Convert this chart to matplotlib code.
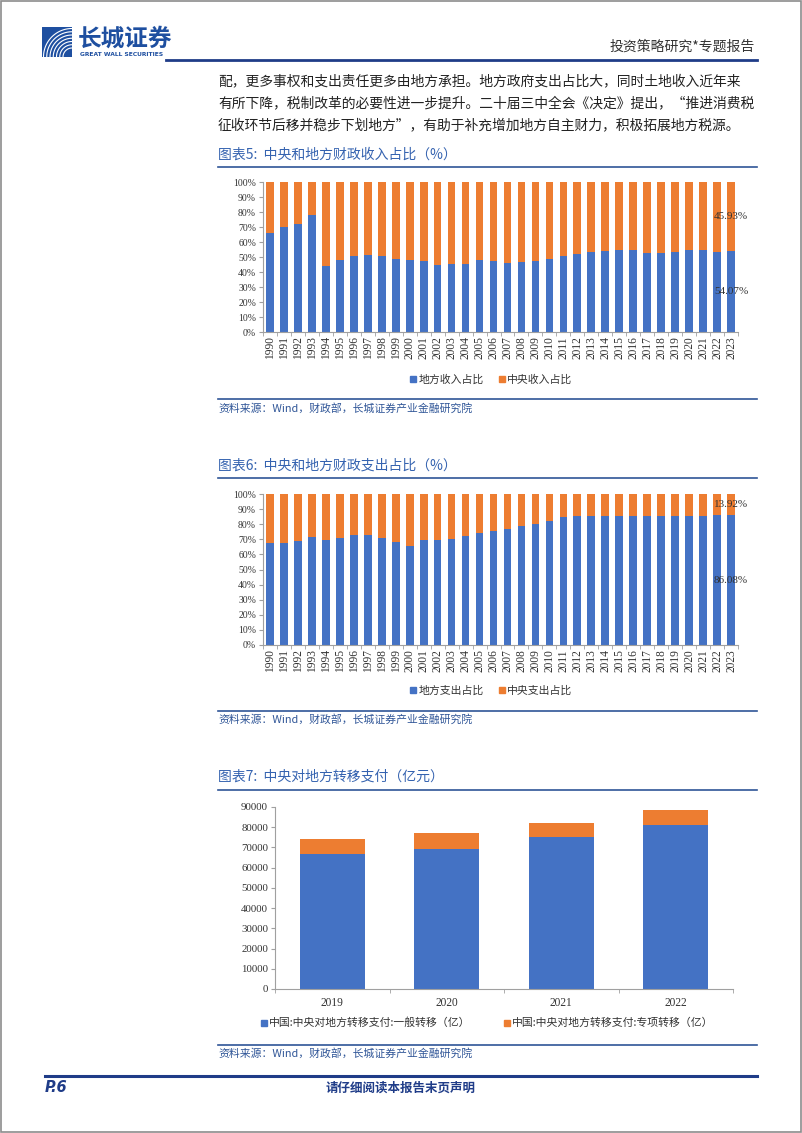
import matplotlib
matplotlib.use('Agg')
import matplotlib.pyplot as plt
from matplotlib.lines import Line2D
from matplotlib.patches import Rectangle
import numpy as np

# ---- data ----
years = [1990, 1991, 1992, 1993, 1994, 1995, 1996, 1997, 1998, 1999, 2000,
         2001, 2002, 2003, 2004, 2005, 2006, 2007, 2008, 2009, 2010, 2011,
         2012, 2013, 2014, 2015, 2016, 2017, 2018, 2019, 2020, 2021, 2022, 2023]
local_rev = [66.2, 70.2, 71.9, 78.0, 44.3, 47.8, 50.6, 51.1, 50.5, 48.9, 47.8,
             47.6, 45.0, 45.4, 45.1, 47.7, 47.2, 45.9, 46.7, 47.6, 48.9, 50.6,
             52.1, 53.4, 54.1, 54.5, 54.7, 53.0, 53.0, 53.1, 54.7, 54.6, 53.4, 54.07]
central_rev = [33.8, 29.8, 28.1, 22.0, 55.7, 52.2, 49.4, 48.9, 49.5, 51.1, 52.2,
               52.4, 55.0, 54.6, 54.9, 52.3, 52.8, 54.1, 53.3, 52.4, 51.1, 49.4,
               47.9, 46.6, 45.9, 45.5, 45.3, 47.0, 47.0, 46.9, 45.3, 45.4, 46.6, 45.93]
local_exp = [67.4, 67.8, 68.7, 71.7, 69.7, 70.8, 72.9, 72.6, 71.1, 68.5, 65.3,
             69.5, 69.3, 69.9, 72.3, 74.1, 75.3, 77.0, 78.7, 80.0, 82.2, 84.9,
             85.1, 85.4, 85.1, 85.5, 85.4, 85.3, 85.2, 85.3, 85.7, 85.7, 86.3, 86.08]
central_exp = [32.6, 32.2, 31.3, 28.3, 30.3, 29.2, 27.1, 27.4, 28.9, 31.5, 34.7,
               30.5, 30.7, 30.1, 27.7, 25.9, 24.7, 23.0, 21.3, 20.0, 17.8, 15.1,
               14.9, 14.6, 14.9, 14.5, 14.6, 14.7, 14.8, 14.7, 14.3, 14.3, 13.7, 13.92]
tr_years = ['2019', '2020', '2021', '2022']
tr_general = [66798, 69459, 75018, 80994]
tr_special = [7561, 7766, 7017, 7557]

paragraph = ['配，更多事权和支出责任更多由地方承担。地方政府支出占比大，同时土地收入近年来',
             '有所下降，税制改革的必要性进一步提升。二十届三中全会《决定》提出，“推进消费税',
             '征收环节后移并稳步下划地方”，有助于补充增加地方自主财力，积极拓展地方税源。']
source = '资料来源：Wind，财政部，长城证券产业金融研究院'

BLUE = '#4472C4'
ORANGE = '#ED7D31'
NAVY = '#1F3C88'
TITLE_C = '#3563B0'
LINE_C = '#2F5597'
SERIF = ['Liberation Serif', 'Noto Sans CJK SC']
CJK = ['Noto Sans CJK SC', 'DejaVu Sans']

W, H = 802, 1133
fig = plt.figure(figsize=(W / 100, H / 100), dpi=100)


def put(x, y, s, **kw):
    kw.setdefault('va', 'center')
    kw.setdefault('family', CJK)
    return fig.text(x / W, 1 - y / H, s, **kw)


def hline(y, x0, x1, color=LINE_C, lw=1.2):
    fig.add_artist(Line2D([x0 / W, x1 / W], [1 - y / H, 1 - y / H],
                          color=color, lw=lw, transform=fig.transFigure))


def ax_at(l, t, r, b):
    return fig.add_axes([l / W, 1 - b / H, (r - l) / W, (b - t) / H])


def style(ax):
    for s in ['top', 'right']:
        ax.spines[s].set_visible(False)
    for s in ['left', 'bottom']:
        ax.spines[s].set_color('#A0A0A0')
        ax.spines[s].set_linewidth(0.8)
    ax.tick_params(axis='y', length=3, color='#A0A0A0', pad=2)
    ax.tick_params(axis='x', which='major', length=0, pad=3)
    ax.tick_params(axis='x', which='minor', length=3, color='#A0A0A0')


# ---- page frame / header ----
fig.add_artist(Rectangle((0.001, 0.001), 0.998, 0.998, fill=False, ec='#8C8C8C',
                         lw=1.2, transform=fig.transFigure))
logo = ax_at(42, 27, 72, 57)
logo.set_xlim(0, 1)
logo.set_ylim(0, 1)
logo.axis('off')
logo.add_patch(Rectangle((0, 0), 1, 1, color='#1E4FA0'))
for r in np.linspace(0.3, 0.95, 7):
    th = np.linspace(np.pi / 2, np.pi, 40)
    logo.plot(1.0 + r * np.cos(th), 0.0 + r * np.sin(th), color='white', lw=0.8)
put(78, 39, '长城证券', fontsize=17, fontweight='bold', color='#1E4FA0', ha='left')
put(80, 55, 'GREAT WALL SECURITIES', fontsize=4.3, fontweight='bold',
    color='#1E4FA0', ha='left', family=['DejaVu Sans'])
put(755, 47, '投资策略研究*专题报告', fontsize=10, color='#333333', ha='right')
hline(60, 166, 757, color=NAVY, lw=2)

for i, line in enumerate(paragraph):
    put(218, 81 + i * 22, line, fontsize=9.95, color='#222222', ha='left')

# ---- chart 5 ----
put(218, 155, '图表5:  中央和地方财政收入占比（%）', fontsize=10, color=TITLE_C,
    ha='left', style='italic')
hline(167, 218, 757)
x = np.arange(len(years))
ax1 = ax_at(263, 182, 738, 332)
b1 = ax1.bar(x, local_rev, 0.55, color=BLUE, label='地方收入占比')
b2 = ax1.bar(x, central_rev, 0.55, bottom=local_rev, color=ORANGE, label='中央收入占比')
ax1.bar_label(b1, labels=[''] * (len(years) - 1) + ['%.2f%%' % local_rev[-1]],
              label_type='center', fontsize=8, family=SERIF, color='#333333')
ax1.bar_label(b2, labels=[''] * (len(years) - 1) + ['%.2f%%' % central_rev[-1]],
              label_type='center', fontsize=8, family=SERIF, color='#333333')
hline(399, 218, 757)
put(218, 408, source, fontsize=7.8, color=LINE_C, ha='left', style='italic')

# ---- chart 6 ----
put(218, 466, '图表6:  中央和地方财政支出占比（%）', fontsize=10, color=TITLE_C,
    ha='left', style='italic')
hline(478, 218, 757)
ax2 = ax_at(263, 494, 738, 645)
c1 = ax2.bar(x, local_exp, 0.55, color=BLUE, label='地方支出占比')
c2 = ax2.bar(x, central_exp, 0.55, bottom=local_exp, color=ORANGE, label='中央支出占比')
ax2.bar_label(c1, labels=[''] * (len(years) - 1) + ['%.2f%%' % local_exp[-1]],
              label_type='center', fontsize=8, family=SERIF, color='#333333')
ax2.bar_label(c2, labels=[''] * (len(years) - 1) + ['%.2f%%' % central_exp[-1]],
              label_type='center', fontsize=8, family=SERIF, color='#333333')
hline(711, 218, 757)
put(218, 719, source, fontsize=7.8, color=LINE_C, ha='left', style='italic')

for ax, leg_y in [(ax1, 380), (ax2, 691)]:
    style(ax)
    ax.set_xlim(-0.5, len(years) - 0.5)
    ax.set_ylim(0, 100)
    ax.set_yticks(range(0, 101, 10))
    ax.set_yticklabels(['%d%%' % v for v in range(0, 101, 10)], family=SERIF,
                       fontsize=7, color='#333333')
    ax.set_xticks(x)
    ax.set_xticklabels([str(y) for y in years], rotation=90, family=SERIF,
                       fontsize=8.3, color='#333333')
    ax.set_xticks(np.arange(-0.5, len(years), 1), minor=True)
    hs = [Line2D([], [], marker='s', ls='none', color=c, markersize=4.5) for c in (BLUE, ORANGE)]
    labs = [h.get_label() for h in ax.containers]
    ax.legend(hs, labs, loc='center', bbox_to_anchor=(491 / W, 1 - leg_y / H),
              bbox_transform=fig.transFigure, ncol=2, frameon=False,
              prop={'family': CJK, 'size': 7.8}, handlelength=0.6,
              handletextpad=0.2, columnspacing=1.4, labelcolor='#333333')

# ---- chart 7 ----
put(218, 777, '图表7:  中央对地方转移支付（亿元）', fontsize=10, color=TITLE_C,
    ha='left', style='italic')
hline(790, 218, 757)
ax3 = ax_at(275, 807, 733, 989)
xt = np.arange(len(tr_years))
ax3.bar(xt, tr_general, 0.57, color=BLUE, label='中国:中央对地方转移支付:一般转移（亿）')
ax3.bar(xt, tr_special, 0.57, bottom=tr_general, color=ORANGE,
        label='中国:中央对地方转移支付:专项转移（亿）')
style(ax3)
ax3.set_xlim(-0.5, len(tr_years) - 0.5)
ax3.set_ylim(0, 90000)
ax3.set_yticks(range(0, 90001, 10000))
ax3.set_yticklabels([str(v) for v in range(0, 90001, 10000)], family=SERIF,
                    fontsize=7.8, color='#333333')
ax3.set_xticks(xt)
ax3.set_xticklabels(tr_years, family=SERIF, fontsize=8.3, color='#333333')
ax3.tick_params(axis='x', which='major', pad=6)
ax3.set_xticks(np.arange(-0.5, len(tr_years), 1), minor=True)
hs = [Line2D([], [], marker='s', ls='none', color=c, markersize=4.5) for c in (BLUE, ORANGE)]
ax3.legend(hs, [h.get_label() for h in ax3.containers], loc='center',
           bbox_to_anchor=(487 / W, 1 - 1023 / H), bbox_transform=fig.transFigure,
           ncol=2, frameon=False, prop={'family': CJK, 'size': 7.8},
           handlelength=0.6, handletextpad=0.2, columnspacing=3.0, labelcolor='#333333')
hline(1045, 218, 757)
put(218, 1053, source, fontsize=7.8, color=LINE_C, ha='left', style='italic')

# ---- footer ----
hline(1076, 45, 757, color=NAVY, lw=2.2)
put(45, 1088, 'P.6', fontsize=10.5, fontweight='bold', style='italic',
    color=NAVY, ha='left', family=['DejaVu Sans'])
put(401, 1088, '请仔细阅读本报告末页声明', fontsize=9, fontweight='bold',
    style='italic', color=NAVY, ha='center')

fig.savefig('out.png', dpi=100)
